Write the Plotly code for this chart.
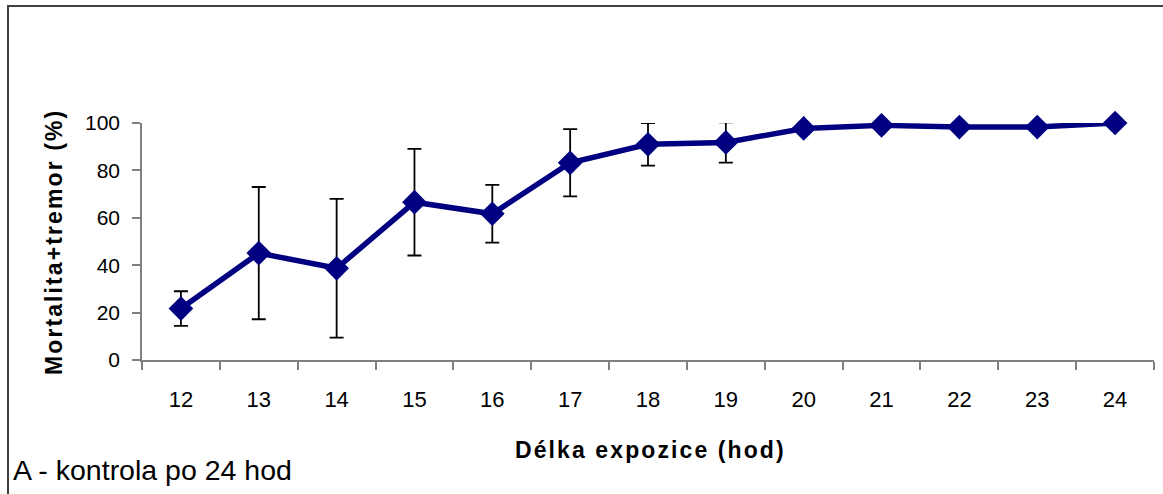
import plotly.graph_objects as go

hours = [12, 13, 14, 15, 16, 17, 18, 19, 20, 21, 22, 23, 24]
mortality = [21.7, 45.1, 38.7, 66.6, 61.7, 83.2, 91.0, 91.8, 97.7, 99.0, 98.3, 98.3, 100.0]
errors = [7.3, 27.9, 29.3, 22.5, 12.2, 14.2, 9.0, 8.5, 1.0, 1.0, 1.5, 1.5, 0.0]
y_ticks = [0, 20, 40, 60, 80, 100]

W, H = 1163, 494
L, R, T, B = 142, 9, 123, 134
pw, ph = W - L - R, H - T - B

def px(x):
    return (x - L) / pw

def py(y):
    return (H - B - y) / ph

FONT = "Arial, 'Liberation Sans', sans-serif"

fig = go.Figure()
fig.add_trace(go.Scatter(
    x=hours, y=mortality,
    mode="lines+markers",
    line=dict(color="#000080", width=5.5),
    marker=dict(symbol="diamond", size=19, color="#000080"),
    error_y=dict(type="data", array=errors, visible=True, color="black", thickness=1.8, width=7),
    cliponaxis=False,
    showlegend=False,
))

fig.update_layout(
    width=W, height=H,
    margin=dict(l=L, r=R, t=T, b=B),
    paper_bgcolor="white", plot_bgcolor="white",
    font=dict(family=FONT, color="black"),
    xaxis=dict(
        range=[11.5, 24.5], tickvals=hours, ticktext=[str(h) for h in hours],
        ticks="outside", ticklen=19, tickcolor="rgba(0,0,0,0)",
        tickfont=dict(size=22, family=FONT),
        showgrid=False, zeroline=False,
        showline=True, linecolor="#808080", linewidth=1.5,
        minor=dict(tickvals=[h - 0.5 for h in hours] + [24.5], ticks="outside", ticklen=8,
                   tickcolor="#808080", tickwidth=1.5, showgrid=False),
    ),
    yaxis=dict(
        range=[0, 100], tickvals=y_ticks,
        ticks="outside", ticklen=8, tickcolor="#808080", tickwidth=1.5,
        ticklabelstandoff=8,
        tickfont=dict(size=21, family=FONT),
        showgrid=False, zeroline=False,
        showline=True, linecolor="#808080", linewidth=1.5,
    ),
    annotations=[
        dict(text='<span style="letter-spacing:2.1px"><b>Délka expozice (hod)</b></span>',
             xref="paper", yref="paper",
             x=px(650), y=py(450), xanchor="center", yanchor="middle", showarrow=False,
             font=dict(size=23, family=FONT)),
        dict(text='<span style="letter-spacing:2.1px"><b>Mortalita+tremor (%)</b></span>',
             xref="paper", yref="paper",
             x=px(54), y=py(242), xanchor="center", yanchor="middle", showarrow=False,
             textangle=-90, font=dict(size=23, family=FONT)),
        dict(text="A - kontrola po 24 hod", xref="paper", yref="paper",
             x=px(11), y=py(470), xanchor="left", yanchor="middle", showarrow=False,
             font=dict(size=28.5, family=FONT)),
    ],
    shapes=[
        dict(type="line", xref="paper", yref="paper", x0=px(7), x1=px(1163), y0=py(6), y1=py(6),
             line=dict(color="#404040", width=2)),
        dict(type="line", xref="paper", yref="paper", x0=px(8), x1=px(8), y0=py(6), y1=py(494),
             line=dict(color="#404040", width=2)),
    ],
)

fig.write_html("out.html", config={"displayModeBar": False},
               post_script="document.body.style.margin='0';document.body.style.overflow='hidden';")
